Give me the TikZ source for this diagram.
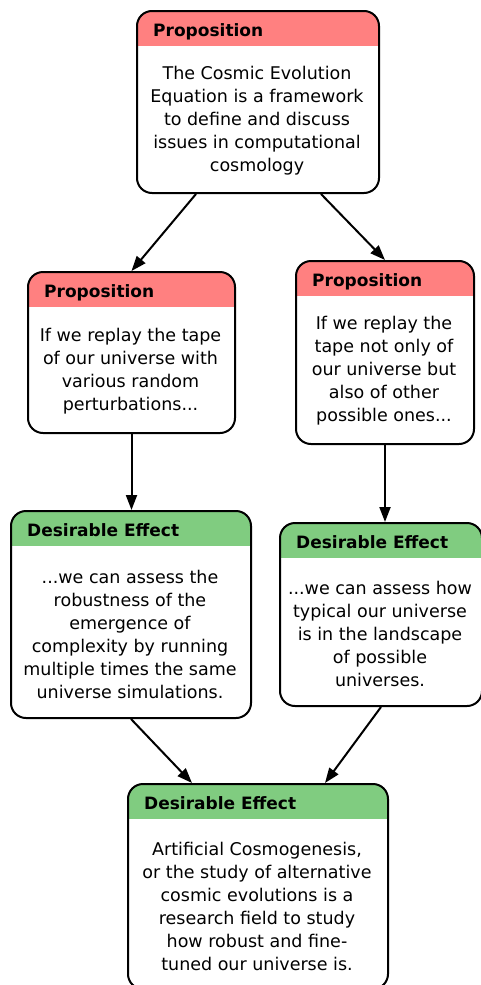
\documentclass[tikz,border=0pt]{standalone}
\usepackage{fontspec}
\setmainfont{DejaVu Sans}
\usetikzlibrary{arrows.meta}
\definecolor{propred}{RGB}{255,128,128}
\definecolor{effgreen}{RGB}{128,204,128}
\tikzset{
  card/.style={draw, line width=2pt, rounded corners=15pt, inner sep=0pt, anchor=north west,
    path picture={\fill[#1, sharp corners] ([xshift=-2pt,yshift=2pt]path picture bounding box.north west) rectangle ([xshift=2pt,yshift=-35pt]path picture bounding box.north east);}},
  cardtitle/.style={anchor=base west, inner sep=0pt, font=\fontsize{17}{20}\selectfont\bfseries},
  cardtext/.style={align=center, inner sep=0pt, font=\fontsize{17.5}{23}\selectfont},
  arr/.style={-{Triangle[length=15pt,width=11pt]}, line width=2pt}
}
\begin{document}
\begin{tikzpicture}[x=1pt,y=-1pt]
\useasboundingbox (0,0) rectangle (481,985);
\fill[white] (0,0) rectangle (481,985);
%Shape: Rounded Rectangle
\node[card=propred, minimum width=242pt, minimum height=182pt] (cee) at (136,10) {};
\node[cardtitle] (ceeT) at ([xshift=17pt,yshift=-26pt]cee.north west) {Proposition};
\node[cardtext] (ceeB) at (257,121) {The Cosmic Evolution\\Equation is a framework\\to define and discuss\\issues in computational\\cosmology};
%Shape: Rounded Rectangle
\node[card=propred, minimum width=207pt, minimum height=161pt] (lp) at (27,271) {};
\node[cardtitle] (lpT) at ([xshift=17pt,yshift=-26pt]lp.north west) {Proposition};
\node[cardtext] (lpB) at (130.5,371) {If we replay the tape\\of our universe with\\various random\\perturbations...};
%Shape: Rounded Rectangle
\node[card=propred, minimum width=178pt, minimum height=183pt] (rp) at (295,260) {};
\node[cardtitle] (rpT) at ([xshift=17pt,yshift=-26pt]rp.north west) {Proposition};
\node[cardtext] (rpB) at (384,371) {If we replay the\\tape not only of\\our universe but\\also of other\\possible ones...};
%Shape: Rounded Rectangle
\node[card=effgreen, minimum width=240pt, minimum height=207pt] (ld) at (10,510) {};
\node[cardtitle] (ldT) at ([xshift=17pt,yshift=-26pt]ld.north west) {Desirable Effect};
\node[cardtext] (ldB) at (130,634) {...we can assess the\\robustness of the\\emergence of\\complexity by running\\multiple times the same\\universe simulations.};
%Shape: Rounded Rectangle
\node[card=effgreen, minimum width=202pt, minimum height=183pt] (rd) at (279,522) {};
\node[cardtitle] (rdT) at ([xshift=17pt,yshift=-26pt]rd.north west) {Desirable Effect};
\node[cardtext] (rdB) at (380,634) {...we can assess how\\typical our universe\\is in the landscape\\of possible\\universes.};
%Shape: Rounded Rectangle
\node[card=effgreen, minimum width=260pt, minimum height=205pt] (bd) at (127,783) {};
\node[cardtitle] (bdT) at ([xshift=17pt,yshift=-26pt]bd.north west) {Desirable Effect};
\node[cardtext] (bdB) at (257,906) {Artificial Cosmogenesis,\\or the study of alternative\\cosmic evolutions is a\\research field to study\\how robust and fine-\\tuned our universe is.};
%Straight Lines
\draw[arr] ([xshift=-62pt]cee.south) -- (lp.north);
\draw[arr] ([xshift=63pt]cee.south) -- (rp.north);
\draw[arr] (lp.south) -- (lp.south |- ld.north);
\draw[arr] (rp.south) -- (rp.south |- rd.north);
\draw[arr] (ld.south) -- ([xshift=-66pt]bd.north);
\draw[arr] (rd.south) -- ([xshift=67pt]bd.north);
\end{tikzpicture}
\end{document}
